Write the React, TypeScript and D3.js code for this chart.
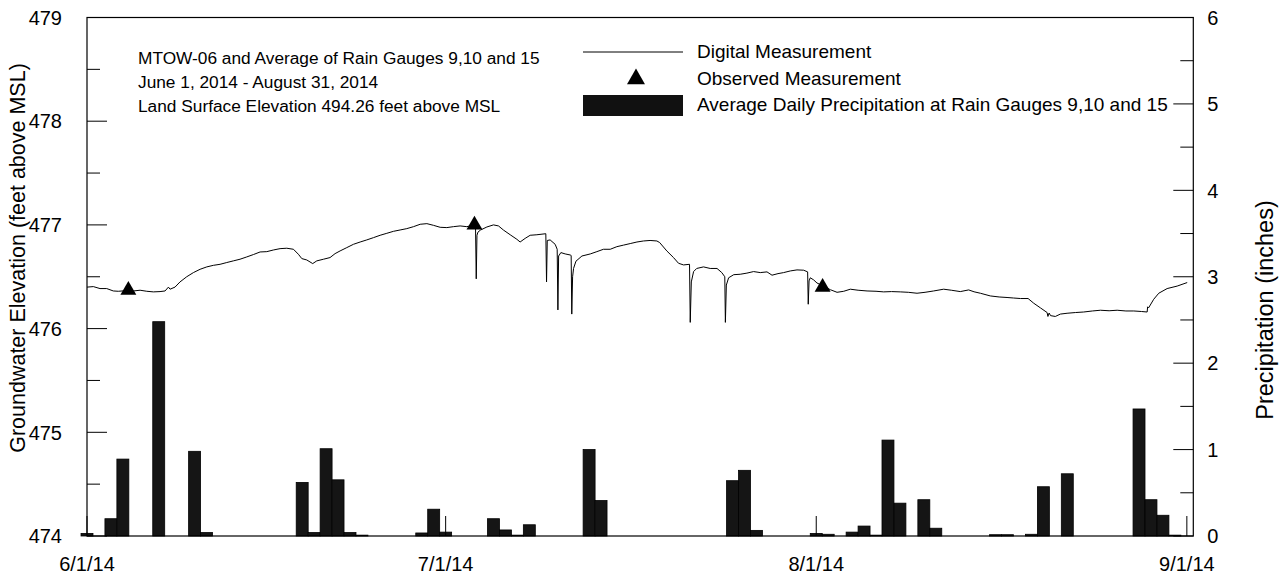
import React from "react";
import * as d3 from "d3";

// ---------- DATA ----------
// Digital measurement: [days since 6/1/2014, groundwater elevation (ft)]
const levelDays = [
  0, 0.53, 1.09, 1.65, 2.2, 2.62, 3.2, 3.88, 4.44, 5.0, 5.55, 6.11, 6.53, 6.81, 6.95, 7.36, 7.78, 8.34, 8.9, 9.46,
  10.02, 10.57, 11.13, 11.69, 12.24, 12.8, 13.36, 13.92, 14.48, 15.04, 15.59, 16.15, 16.71, 17.27, 17.68, 17.97,
  18.38, 18.88, 19.22, 19.78, 20.33, 20.75, 21.17, 21.73, 22.29, 22.85, 23.4, 23.96, 24.52, 25.08, 25.63, 26.19,
  26.75, 27.31, 27.87, 28.43, 28.98, 29.54, 30.1, 30.65, 31.21, 31.77, 32.33,
  32.5, 32.56, 32.62, 32.7, 32.91, 33.45, 34.0, 34.42, 34.84, 35.4, 35.96, 36.23, 36.65, 37.07, 37.63, 38.38,
  38.44, 38.5, 38.74, 39.16, 39.33, 39.39, 39.45, 39.64, 40.0, 40.42, 40.5, 40.55, 40.62, 40.7, 40.9, 41.4, 42.1,
  42.65, 43.2, 43.77, 44.32, 44.88, 45.44, 46.0, 46.55, 47.1, 47.67, 47.9, 48.5, 49.06, 49.48, 49.9, 50.4, 50.46,
  50.55, 50.74, 51.0, 51.57, 52.13, 52.7, 53.1, 53.35, 53.4, 53.48, 53.67, 54.1, 54.64, 55.2, 55.76, 56.32, 56.88,
  57.3, 57.8, 58.27, 58.83, 59.39, 59.95, 60.28, 60.33, 60.4, 60.5, 60.78, 61.06, 61.6, 62.18, 62.74, 63.3, 63.85,
  64.5, 65.25, 66.0, 66.64, 67.3, 68.03, 68.7, 69.43, 70.1, 70.82, 71.66, 72.3, 73.05, 73.75, 74.2, 74.73, 75.56,
  76.3, 76.96, 77.5, 78.08, 78.72, 79.19, 79.75, 80.31, 80.38, 80.48, 80.6, 81.0, 81.42, 81.98, 82.7, 83.37, 84.1,
  84.77, 85.5, 86.17, 86.9, 87.56, 88.2, 88.68, 88.72, 88.8, 89.23, 89.65, 90.35, 91.19, 92.03,
];
const levelValues = [
  476.4, 476.405, 476.386, 476.386, 476.363, 476.36, 476.365, 476.363, 476.37, 476.36, 476.354, 476.357, 476.363,
  476.4, 476.38, 476.4, 476.45, 476.5, 476.54, 476.572, 476.595, 476.61, 476.62, 476.637, 476.653, 476.669, 476.691,
  476.714, 476.739, 476.742, 476.758, 476.771, 476.775, 476.765, 476.717, 476.675, 476.662, 476.627, 476.653,
  476.669, 476.685, 476.723, 476.749, 476.781, 476.813, 476.835, 476.855, 476.877, 476.9, 476.919, 476.938, 476.951,
  476.964, 476.983, 477.006, 477.012, 476.996, 476.977, 476.974, 476.983, 476.99, 476.983, 476.996,
  476.97, 476.48, 476.9, 476.93, 476.95, 476.98, 477.0, 476.99, 476.95, 476.905, 476.861, 476.835, 476.87, 476.9,
  476.905, 476.915, 476.45, 476.85, 476.855, 476.813, 476.765, 476.18, 476.7, 476.733, 476.72, 476.71, 476.705,
  476.14, 476.5, 476.58, 476.65, 476.7, 476.72, 476.742, 476.765, 476.765, 476.79, 476.805, 476.82, 476.835,
  476.845, 476.85, 476.845, 476.83, 476.749, 476.685, 476.63, 476.614, 476.62, 476.06, 476.45, 476.55, 476.58,
  476.595, 476.58, 476.58, 476.54, 476.5, 476.06, 476.42, 476.49, 476.52, 476.524, 476.535, 476.55, 476.54, 476.547,
  476.515, 476.53, 476.54, 476.556, 476.566, 476.563, 476.547, 476.235, 476.46, 476.49, 476.47, 476.44, 476.41,
  476.375, 476.35, 476.36, 476.38, 476.37, 476.363, 476.36, 476.354, 476.357, 476.354, 476.35, 476.341, 476.35,
  476.363, 476.38, 476.37, 476.357, 476.373, 476.355, 476.341, 476.315, 476.305, 476.3, 476.295, 476.29, 476.29,
  476.245, 476.2, 476.155, 476.117, 476.15, 476.125, 476.117, 476.14, 476.148, 476.155, 476.16, 476.17, 476.177,
  476.172, 476.177, 476.17, 476.17, 476.165, 476.16, 476.21, 476.2, 476.283, 476.341, 476.386, 476.41, 476.444,
];

// Observed measurements
const observedDays = [3.46, 32.41, 61.53];
const observedValues = [476.37, 477.0, 476.4];

// Average daily precipitation (inches), by date
const precipDates = [
  "2014-06-01", "2014-06-03", "2014-06-04", "2014-06-07", "2014-06-10", "2014-06-11", "2014-06-19", "2014-06-20",
  "2014-06-21", "2014-06-22", "2014-06-23", "2014-06-24", "2014-06-29", "2014-06-30", "2014-07-01", "2014-07-05",
  "2014-07-06", "2014-07-07", "2014-07-08", "2014-07-13", "2014-07-14", "2014-07-25", "2014-07-26", "2014-07-27",
  "2014-08-01", "2014-08-02", "2014-08-04", "2014-08-05", "2014-08-06", "2014-08-07", "2014-08-08", "2014-08-10",
  "2014-08-11", "2014-08-16", "2014-08-17", "2014-08-19", "2014-08-20", "2014-08-22", "2014-08-28", "2014-08-29",
  "2014-08-30", "2014-08-31",
];
const precipValues = [
  0.03, 0.2, 0.89, 2.48, 0.98, 0.04, 0.62, 0.04, 1.01, 0.65, 0.04, 0.01, 0.035, 0.31, 0.045, 0.2, 0.07, 0.01, 0.13,
  1.0, 0.41, 0.64, 0.76, 0.065, 0.03, 0.02, 0.045, 0.115, 0.01, 1.11, 0.38, 0.42, 0.09, 0.015, 0.015, 0.02, 0.57,
  0.72, 1.47, 0.42, 0.24, 0.01,
];

const xTickDates = ["2014-06-01", "2014-07-01", "2014-08-01", "2014-09-01"];
const xTickLabels = ["6/1/14", "7/1/14", "8/1/14", "9/1/14"];
const leftTicks = [474, 475, 476, 477, 478, 479];
const rightTicks = [0, 1, 2, 3, 4, 5, 6];

const titleLines = [
  "MTOW-06 and Average of Rain Gauges 9,10 and 15",
  "June 1, 2014 - August 31, 2014",
  "Land Surface Elevation 494.26 feet above MSL",
];
const legendLabels = [
  "Digital Measurement",
  "Observed Measurement",
  "Average Daily Precipitation at Rain Gauges 9,10 and 15",
];

// ---------- LAYOUT ----------
const W = 1281;
const H = 575;
const L = 87;
const R = 1193.3;
const T = 17.5;
const B = 536;
const DAY = 86400000;
const FONT = "'Liberation Sans', Arial, Helvetica, sans-serif";
const TICK_FS = 20;

const parse = (s: string) => new Date(s + "T00:00:00Z");
const base = parse("2014-06-01");
const dayToDate = (d: number) => new Date(base.getTime() + d * DAY);

export default function App() {
  const x = d3
    .scaleUtc()
    .domain([base, new Date(parse("2014-09-01").getTime() + 0.54 * DAY)])
    .range([L, R]);
  const yL = d3.scaleLinear().domain([474, 479]).range([B, T]);
  const yR = d3.scaleLinear().domain([0, 6]).range([B, T]);

  const linePts: [number, number][] = levelDays.map((d, i) => [x(dayToDate(d)), yL(levelValues[i])]);
  const linePath = d3.line()(linePts) || "";

  const triSmall = d3.symbol().type(d3.symbolTriangle).size(110)() || "";
  const triLegend = d3.symbol().type(d3.symbolTriangle).size(140)() || "";

  const leftMinor = d3.range(474.5, 479, 1);
  const rightMinor = d3.range(0.5, 6, 1);

  return (
    <svg
      width={W}
      height={H}
      style={{ position: "absolute", left: 0, top: 0, background: "#fff" }}
      fontFamily={FONT}
    >
      <rect x={0} y={0} width={W} height={H} fill="#fff" />

      {/* precipitation bars */}
      <g>
        {precipDates.map((ds, i) => {
          const c = parse(ds);
          const x0 = x(new Date(c.getTime() - 0.5 * DAY));
          const x1 = x(new Date(c.getTime() + 0.5 * DAY));
          const y0 = yR(precipValues[i]);
          return (
            <rect
              key={ds}
              x={x0}
              y={y0}
              width={x1 - x0}
              height={B - y0}
              fill="#151515"
              stroke="#000"
              strokeWidth={0.8}
            />
          );
        })}
      </g>

      {/* digital measurement */}
      <path d={linePath} fill="none" stroke="#000" strokeWidth={1} strokeLinejoin="round" />

      {/* observed */}
      {observedDays.map((d, i) => (
        <path
          key={i}
          d={triSmall}
          transform={`translate(${x(dayToDate(d))},${yL(observedValues[i])})`}
          fill="#000"
        />
      ))}

      {/* frame */}
      <rect x={L} y={T} width={R - L} height={B - T} fill="none" stroke="#000" strokeWidth={1.2} />

      {/* left axis ticks */}
      {leftTicks.map((v) => (
        <g key={"l" + v}>
          <line x1={L} x2={L + 20} y1={yL(v)} y2={yL(v)} stroke="#000" strokeWidth={1} />
          <text x={L - 25} y={yL(v)} dy="0.36em" textAnchor="end" fontSize={TICK_FS} fill="#000">
            {v}
          </text>
        </g>
      ))}
      {leftMinor.map((v) => (
        <line key={"lm" + v} x1={L} x2={L + 13} y1={yL(v)} y2={yL(v)} stroke="#000" strokeWidth={1} />
      ))}

      {/* right axis ticks */}
      {rightTicks.map((v) => (
        <g key={"r" + v}>
          <line x1={R} x2={R - 20} y1={yR(v)} y2={yR(v)} stroke="#000" strokeWidth={1} />
          <text x={R + 14} y={yR(v)} dy="0.36em" textAnchor="start" fontSize={TICK_FS} fill="#000">
            {v}
          </text>
        </g>
      ))}
      {rightMinor.map((v) => (
        <line key={"rm" + v} x1={R} x2={R - 13} y1={yR(v)} y2={yR(v)} stroke="#000" strokeWidth={1} />
      ))}

      {/* x axis ticks */}
      {xTickDates.map((ds, i) => {
        const px = x(parse(ds));
        return (
          <g key={ds}>
            <line x1={px} x2={px} y1={B} y2={B - 20} stroke="#000" strokeWidth={1} />
            <text x={px} y={571} textAnchor="middle" fontSize={TICK_FS} fill="#000">
              {xTickLabels[i]}
            </text>
          </g>
        );
      })}

      {/* axis titles */}
      <text transform={`translate(25,258) rotate(-90)`} textAnchor="middle" fontSize={21.5} fill="#000">
        Groundwater Elevation (feet above MSL)
      </text>
      <text transform={`translate(1273,310) rotate(-90)`} textAnchor="middle" fontSize={23.5} fill="#000">
        Precipitation (inches)
      </text>

      {/* title block */}
      {titleLines.map((t, i) => (
        <text key={t} x={138} y={64 + i * 24} fontSize={17.3} fill="#000">
          {t}
        </text>
      ))}

      {/* legend */}
      <line x1={583} x2={683} y1={52} y2={52} stroke="#000" strokeWidth={1} />
      <path d={triLegend} transform="translate(636,79)" fill="#000" />
      <rect x={583} y={95} width={100} height={21} fill="#111" />
      {legendLabels.map((t, i) => (
        <text key={t} x={697} y={58 + i * 26.5} fontSize={19} fill="#000">
          {t}
        </text>
      ))}
    </svg>
  );
}
